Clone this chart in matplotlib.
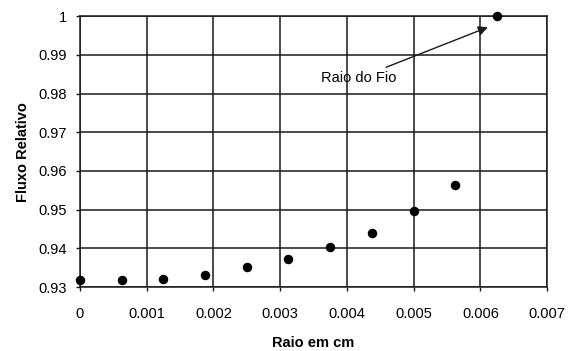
import matplotlib
matplotlib.use("Agg")
import matplotlib.pyplot as plt

raio = [0.0, 0.000625, 0.00125, 0.001875, 0.0025, 0.003125, 0.00375, 0.004375, 0.005, 0.005625, 0.00625]
fluxo = [0.9318, 0.9318, 0.9321, 0.9331, 0.9351, 0.9372, 0.9403, 0.9441, 0.9496, 0.9564, 1.0]
xticks = [0, 0.001, 0.002, 0.003, 0.004, 0.005, 0.006, 0.007]
xticklabels = ["0", "0.001", "0.002", "0.003", "0.004", "0.005", "0.006", "0.007"]
yticks = [0.93, 0.94, 0.95, 0.96, 0.97, 0.98, 0.99, 1.0]
yticklabels = ["0.93", "0.94", "0.95", "0.96", "0.97", "0.98", "0.99", "1"]

plt.rcParams['font.family'] = ['Liberation Sans', 'DejaVu Sans']
fig = plt.figure(figsize=(5.7, 3.51), dpi=100)
ax = fig.add_axes([0.140, 0.182, 0.820, 0.772])
ax.scatter(raio, fluxo, s=34, color='black', zorder=3, clip_on=False)
ax.set_xlim(0, 0.007)
ax.set_ylim(0.93, 1.0)
ax.set_xticks(xticks)
ax.set_xticklabels(xticklabels, fontsize=10.5)
ax.set_yticks(yticks)
ax.set_yticklabels(yticklabels, fontsize=10.5)
ax.grid(True, color='#1a1a1a', linewidth=1.1)
ax.set_axisbelow(True)
for sp in ax.spines.values():
    sp.set_color('#1a1a1a')
    sp.set_linewidth(1.1)
ax.tick_params(axis='x', length=3, width=1.0, color='#1a1a1a', pad=11)
ax.tick_params(axis='y', length=3, width=1.0, color='#1a1a1a', pad=6)
ax.set_xlabel("Raio em cm", fontsize=10.5, fontweight='bold', labelpad=11)
ax.set_ylabel("Fluxo Relativo", fontsize=10.5, fontweight='bold', labelpad=6)
ax.annotate("Raio do Fio", xy=(0.00615, 0.9974), xytext=(0.00474, 0.984),
            fontsize=10.5, ha='right', va='center',
            arrowprops=dict(arrowstyle='-|>', color='#1a1a1a', lw=1.0, mutation_scale=14))
fig.savefig("out.png", dpi=100)
